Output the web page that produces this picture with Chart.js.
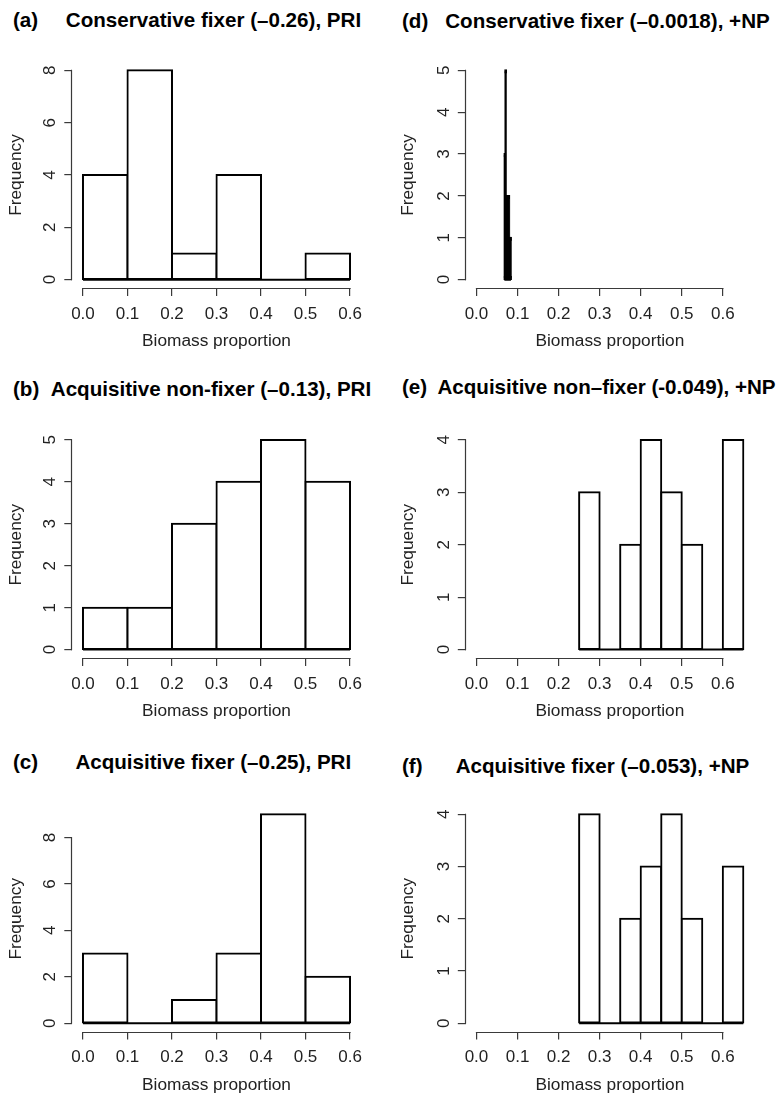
<!DOCTYPE html>
<html><head><meta charset="utf-8">
<script src="https://cdn.jsdelivr.net/npm/chart.js@4/dist/chart.umd.min.js"></script>
<style>
html,body{margin:0;padding:0;background:#fff;width:778px;height:1095px;overflow:hidden;position:relative;}
canvas{position:absolute;}
.ttl{position:absolute;font:bold 20.6px "Liberation Sans",Arial,sans-serif;line-height:20.6px;white-space:nowrap;color:#000;}
</style></head><body>
<script>
// ---- data ----
const breaksPRI = [0.0, 0.1, 0.2, 0.3, 0.4, 0.5, 0.6];
const countsA = [4, 8, 1, 4, 0, 1];
const countsB = [1, 1, 3, 4, 5, 4];
const countsC = [3, 0, 1, 3, 9, 2];
const breaksD = [0.068, 0.070, 0.072, 0.074, 0.076, 0.078, 0.080, 0.082, 0.084];
const countsD = [3, 5, 2, 2, 2, 2, 1, 1];
const breaksNP = [0.25, 0.30, 0.35, 0.40, 0.45, 0.50, 0.55, 0.60, 0.65];
const countsE = [3, 0, 2, 4, 3, 2, 0, 4];
const countsF = [4, 0, 2, 3, 4, 2, 0, 3];
const xTickValues = [0, 0.1, 0.2, 0.3, 0.4, 0.5, 0.6];
const xTickLabels = ['0.0', '0.1', '0.2', '0.3', '0.4', '0.5', '0.6'];
const yTicksA = [0, 2, 4, 6, 8];
const yTicksB = [0, 1, 2, 3, 4, 5];
const yTicksC = [0, 2, 4, 6, 8];
const yTicksD = [0, 1, 2, 3, 4, 5];
const yTicksE = [0, 1, 2, 3, 4];
const yTicksF = [0, 1, 2, 3, 4];
const panelLetters = ['(a)', '(b)', '(c)', '(d)', '(e)', '(f)'];
const panelTitles = [
  'Conservative fixer (\u20130.26), PRI',
  'Acquisitive non-fixer (\u20130.13), PRI',
  'Acquisitive fixer (\u20130.25), PRI',
  'Conservative fixer (\u20130.0018), +NP',
  'Acquisitive non\u2013fixer (-0.049), +NP',
  'Acquisitive fixer (\u20130.053), +NP'
];
const xLabel = 'Biomass proportion';
const yLabel = 'Frequency';

// ---- layout ----
const FONT = '"Liberation Sans", Arial, sans-serif';
const AXIS_COLOR = '#3a3a3a';
const TEXT_COLOR = '#222';
const cols = [
  {left: 0, width: 389, yw: 72.3, padRight: 28.3, xlim: [0, 0.6], titlePad: 5.6, letterX: 13},
  {left: 389, width: 389, yw: 76.8, padRight: 24, xlim: [0, 0.65], titlePad: 9, letterX: 402}
];
const rows = [
  {canvasTop: 38, padTop: 24, plotH: 226, padBottom: 0},
  {canvasTop: 407, padTop: 24.5, plotH: 226.5, padBottom: 0},
  {canvasTop: 782, padTop: 24, plotH: 225.5, padBottom: 0.5}
];
const XH = 64;
const panels = [
  {col: 0, row: 0, breaks: breaksPRI, counts: countsA, yTicks: yTicksA, fill: '#fff', tx: 213.5, ty: 20.5},
  {col: 0, row: 1, breaks: breaksPRI, counts: countsB, yTicks: yTicksB, fill: '#fff', tx: 211, ty: 389},
  {col: 0, row: 2, breaks: breaksPRI, counts: countsC, yTicks: yTicksC, fill: '#fff', tx: 213.3, ty: 762.5},
  {col: 1, row: 0, breaks: breaksD, counts: countsD, yTicks: yTicksD, fill: '#000', tx: 607.5, ty: 20.8},
  {col: 1, row: 1, breaks: breaksNP, counts: countsE, yTicks: yTicksE, fill: '#fff', tx: 606.5, ty: 386.7},
  {col: 1, row: 2, breaks: breaksNP, counts: countsF, yTicks: yTicksF, fill: '#fff', tx: 602.5, ty: 765.8}
];

const rAxes = {
  id: 'rAxes',
  afterDraw(chart) {
    const ctx = chart.ctx, xs = chart.scales.x, ys = chart.scales.y;
    const xt = xs.ticks, yt = ys.ticks;
    const ax = Math.round(ys.right) - 0.5;
    const ay = Math.round(xs.top) + 0.5;
    ctx.save();
    ctx.strokeStyle = AXIS_COLOR;
    ctx.lineWidth = 1.2;
    ctx.beginPath();
    ctx.moveTo(xs.getPixelForValue(xt[0].value) - 0.6, ay);
    ctx.lineTo(xs.getPixelForValue(xt[xt.length - 1].value) + 0.6, ay);
    ctx.moveTo(ax, ys.getPixelForValue(yt[0].value) + 0.6);
    ctx.lineTo(ax, ys.getPixelForValue(yt[yt.length - 1].value) - 0.6);
    ctx.stroke();
    ctx.restore();
  }
};

panels.forEach((p, k) => {
  const c = cols[p.col], r = rows[p.row];
  const cv = document.createElement('canvas');
  const h = r.padTop + r.plotH + XH + r.padBottom;
  cv.width = c.width; cv.height = Math.round(h);
  cv.style.left = c.left + 'px'; cv.style.top = r.canvasTop + 'px';
  cv.style.width = c.width + 'px'; cv.style.height = Math.round(h) + 'px';
  document.body.appendChild(cv);

  const xr = c.xlim[1] - c.xlim[0];
  const ymax = Math.max(...p.counts);
  const bars = p.counts.map((v, i) => ({x: (p.breaks[i] + p.breaks[i + 1]) / 2, y: v}));
  const base = [{x: p.breaks[0], y: 0}, {x: p.breaks[p.breaks.length - 1], y: 0}];
  const tickFont = {family: FONT, size: 17};
  const titleFont = {family: FONT, size: 17.3};
  const grid = {display: true, drawOnChartArea: false, drawTicks: true, tickLength: 8, color: AXIS_COLOR, lineWidth: 1.2, offset: false};

  new Chart(cv, {
    type: 'bar',
    data: {datasets: [
      {type: 'bar', data: bars, backgroundColor: p.fill, borderColor: '#000', borderWidth: 2,
       borderSkipped: false, inflateAmount: 1, barPercentage: 1, categoryPercentage: 1, order: 1},
      {type: 'line', data: base, borderColor: '#000', borderWidth: 2, pointRadius: 0, fill: false, order: 0}
    ]},
    options: {
      responsive: false, animation: false, events: [],
      layout: {padding: {top: r.padTop, right: c.padRight, bottom: r.padBottom, left: 0}, autoPadding: false},
      plugins: {legend: {display: false}, tooltip: {enabled: false}, title: {display: false}},
      scales: {
        x: {
          type: 'linear', offset: false, min: c.xlim[0] - 0.04 * xr, max: c.xlim[1] + 0.04 * xr,
          afterBuildTicks: s => { s.ticks = xTickValues.map(v => ({value: v})); },
          afterFit: s => { s.height = XH; },
          grid: grid, border: {display: false},
          ticks: {autoSkip: false, maxRotation: 0, minRotation: 0, padding: 8, color: TEXT_COLOR, font: tickFont,
                  callback: (v, i) => xTickLabels[i]},
          title: {display: true, text: xLabel, color: TEXT_COLOR, font: titleFont, padding: {top: 0, bottom: 0}}
        },
        y: {
          type: 'linear', offset: false, min: -0.04 * ymax, max: 1.04 * ymax,
          afterBuildTicks: s => { s.ticks = p.yTicks.map(v => ({value: v})); },
          afterFit: s => { s.width = c.yw; },
          grid: grid, border: {display: false},
          ticks: {autoSkip: false, minRotation: 90, maxRotation: 90, crossAlign: 'center', padding: 9,
                  color: TEXT_COLOR, font: tickFont, callback: v => String(v)},
          title: {display: true, text: yLabel, color: TEXT_COLOR, font: titleFont, padding: {top: c.titlePad, bottom: 0}}
        }
      }
    },
    plugins: [rAxes]
  });

  const L = document.createElement('div');
  L.className = 'ttl'; L.textContent = panelLetters[k];
  L.style.left = c.letterX + 'px'; L.style.top = (p.ty - 10.1) + 'px';
  document.body.appendChild(L);
  const T = document.createElement('div');
  T.className = 'ttl'; T.textContent = panelTitles[k];
  T.style.left = p.tx + 'px'; T.style.top = (p.ty - 10.1) + 'px'; T.style.transform = 'translateX(-50%)';
  document.body.appendChild(T);
});
</script>
</body></html>
